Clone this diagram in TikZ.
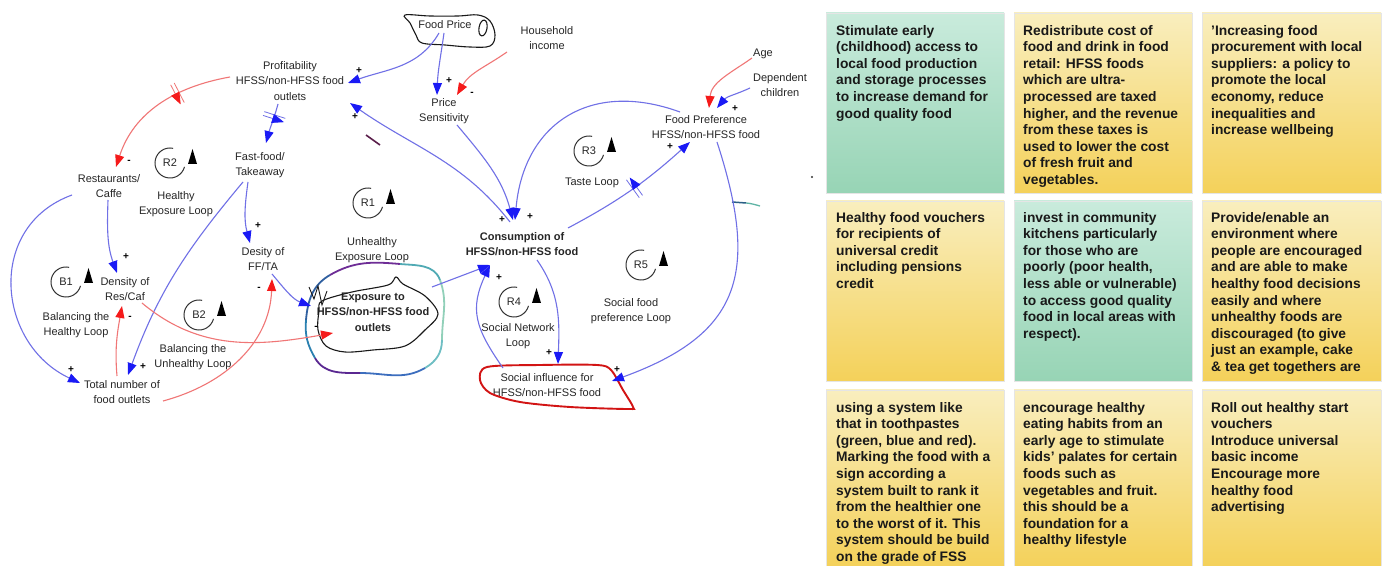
\documentclass[tikz,border=0pt]{standalone}
\usepackage{fontspec}
\setmainfont{Liberation Sans}
\usetikzlibrary{arrows.meta,decorations.markings}
\definecolor{bl}{HTML}{7070E6}
\definecolor{blh}{HTML}{1A1AF5}
\definecolor{rl}{HTML}{F07676}
\definecolor{rh}{HTML}{F51A1A}
\definecolor{gtop}{HTML}{C9EBDC}
\definecolor{gbot}{HTML}{97D4B5}
\definecolor{ytop}{HTML}{F9EEBE}
\definecolor{ybot}{HTML}{F4D15A}
\tikzset{
  var/.style={align=center, font=\fontsize{11}{15.5}\selectfont, inner sep=1pt, text=black!85},
  bvar/.style={var, font=\bfseries\fontsize{11}{15.5}\selectfont},
  sgn/.style={font=\bfseries\fontsize{10}{10}\selectfont, inner sep=0pt, text=black},
  pa/.style={draw=bl, line width=1.1pt, -{Triangle[length=12pt,width=9pt,color=blh]}},
  na/.style={draw=rl, line width=1.1pt, -{Triangle[length=12pt,width=9pt,color=rh]}},
  hashb/.style={postaction={decorate,decoration={markings,mark=at position #1 with {\draw[bl,line width=0.8pt] (-2pt,-11pt)--(-2pt,11pt) (2pt,-11pt)--(2pt,11pt);}}}},
  hashr/.style={postaction={decorate,decoration={markings,mark=at position #1 with {\draw[rl,line width=0.8pt] (-2pt,-11pt)--(-2pt,11pt) (2pt,-11pt)--(2pt,11pt);}}}},
  hand/.style={draw=black!90, line width=1.1pt},
  note/.style={draw=black!10, line width=0.6pt},
  notetxt/.style={anchor=north west, align=left, inner sep=0pt, font=\bfseries\fontsize{13.8}{16.6}\selectfont, text=black!90}
}
\newcommand{\lsym}[4]{%
  \node[var,inner sep=0pt] (#1) at (#2,#3) {#4};
  \draw[black!80,line width=1pt] ([shift={(78:15pt)}]#1.center) arc[start angle=78,end angle=345,radius=15pt];
  \fill[black] ([xshift=18pt,yshift=-1pt]#1.center) -- ++(9pt,0pt) -- ++(-4.5pt,15pt) -- cycle;
}
\begin{document}
\begin{tikzpicture}[x=1pt,y=1pt]
\useasboundingbox (0,0) rectangle (1384,565);
\fill[white] (0,0) rectangle (1384,565);

% ---------- sticky notes ----------
\shadedraw[note, top color=gtop, bottom color=gbot] (826,552) rectangle (1004,372);
\shadedraw[note, top color=ytop, bottom color=ybot] (1014,552) rectangle (1192,372);
\shadedraw[note, top color=ytop, bottom color=ybot] (1202,552) rectangle (1381,372);
\shadedraw[note, top color=ytop, bottom color=ybot] (826,364) rectangle (1004,184);
\shadedraw[note, top color=gtop, bottom color=gbot] (1014,364) rectangle (1192,184);
\shadedraw[note, top color=ytop, bottom color=ybot] (1202,364) rectangle (1381,184);
\shadedraw[note, top color=ytop, bottom color=ybot] (826,175) rectangle (1004,-2);
\shadedraw[note, top color=ytop, bottom color=ybot] (1014,175) rectangle (1192,-2);
\shadedraw[note, top color=ytop, bottom color=ybot] (1202,175) rectangle (1381,-2);

\node[notetxt] (n1) at (836,540) {Stimulate early\\(childhood) access to\\local food production\\and storage processes\\to increase demand for\\good quality food};
\node[notetxt] (n2) at (1023,540) {Redistribute cost of\\food and drink in food\\retail: HFSS foods\\which are ultra-\\processed are taxed\\higher, and the revenue\\from these taxes is\\used to lower the cost\\of fresh fruit and\\vegetables.};
\node[notetxt] (n3) at (1211,540) {'Increasing food\\procurement with local\\suppliers: a policy to\\promote the local\\economy, reduce\\inequalities and\\increase wellbeing};
\node[notetxt] (n4) at (836,353) {Healthy food vouchers\\for recipients of\\universal credit\\including pensions\\credit};
\node[notetxt] (n5) at (1023,353) {invest in community\\kitchens particularly\\for those who are\\poorly (poor health,\\less able or vulnerable)\\to access good quality\\food in local areas with\\respect).};
\node[notetxt] (n6) at (1211,353) {Provide/enable an\\environment where\\people are encouraged\\and are able to make\\healthy food decisions\\easily and where\\unhealthy foods are\\discouraged (to give\\just an example, cake\\\& tea get togethers are};
\node[notetxt] (n7) at (836,163) {using a system like\\that in toothpastes\\(green, blue and red).\\Marking the food with a\\sign according a\\system built to rank it\\from the healthier one\\to the worst of it. This\\system should be build\\on the grade of FSS};
\node[notetxt] (n8) at (1023,163) {encourage healthy\\eating habits from an\\early age to stimulate\\kids' palates for certain\\foods such as\\vegetables and fruit.\\this should be a\\foundation for a\\healthy lifestyle};
\node[notetxt] (n9) at (1211,163) {Roll out healthy start\\vouchers\\Introduce universal\\basic income\\Encourage more\\healthy food\\advertising};

% ---------- variables ----------
\node[var] (fp) at (445,540) {Food Price};
\node[var] (hi) at (547,527) {Household\\income};
\node[var] (prof) at (290,484) {Profitability\\HFSS/non-HFSS food\\outlets};
\node[var] (ps) at (444,454) {Price\\Sensitivity};
\node[var] (age) at (763,511) {Age};
\node[var] (dep) at (780,480) {Dependent\\children};
\node[var] (pref) at (706,438) {Food Preference\\HFSS/non-HFSS food};
\node[var] (rest) at (109,379) {Restaurants/\\Caffe};
\node[var] (ff) at (260,400) {Fast-food/\\Takeaway};
\node[bvar] (cons) at (522,321) {Consumption of\\HFSS/non-HFSS food};
\node[var] (dff) at (263,306) {Desity of\\FF/TA};
\node[var] (drc) at (125,276) {Density of\\Res/Caf};
\node[bvar] (exp) at (373,253) {Exposure to\\HFSS/non-HFSS food\\outlets};
\node[var] (tot) at (122,173) {Total number of\\food outlets};
\node[var] (soc) at (547,180) {Social influence for\\HFSS/non-HFSS food};

% ---------- loop labels ----------
\node[var] (l2) at (176,361) {Healthy\\Exposure Loop};
\node[var] (l1) at (372,315) {Unhealthy\\Exposure Loop};
\node[var] (l3) at (592,382) {Taste Loop};
\node[var] (lb1) at (76,240) {Balancing the\\Healthy Loop};
\node[var] (lb2) at (193,208) {Balancing the\\Unhealthy Loop};
\node[var] (l4) at (518,229) {Social Network\\Loop};
\node[var] (l5) at (631,254) {Social food\\preference Loop};

\lsym{r2}{170}{402}{R2}
\lsym{r1}{368}{362}{R1}
\lsym{r3}{589}{414}{R3}
\lsym{b1}{66}{283}{B1}
\lsym{b2}{199}{250}{B2}
\lsym{r4}{514}{263}{R4}
\lsym{r5}{641}{300}{R5}

% ---------- hand drawn marks ----------
\draw[hand] plot[smooth cycle, tension=0.6] coordinates {(405,550) (430,549) (458,549) (478,550) (490,544) (495,530) (490,519) (470,518) (445,520) (422,522) (416,530) (410,542)};
\draw[hand, rotate around={-10:(483,537)}] (483,537) ellipse[x radius=4pt, y radius=8pt];

\draw[line width=1.8pt, draw={rgb,255:red,48;green,96;blue,160}] (306,245) to[out=85,in=210] (330,290);
\draw[line width=1.8pt, draw={rgb,255:red,110;green,45;blue,150}] (330,290) to[out=30,in=175] (400,301);
\draw[line width=1.8pt, draw={rgb,255:red,80;green,170;blue,180}] (400,301) to[out=-5,in=110] (440,285);
\draw[line width=1.8pt, draw={rgb,255:red,145;green,208;blue,185}] (440,285) to[out=-70,in=90] (442,225);
\draw[line width=1.8pt, draw={rgb,255:red,110;green,190;blue,195}] (442,225) to[out=-90,in=30] (425,197);
\draw[line width=1.8pt, draw={rgb,255:red,60;green,110;blue,190}] (425,197) to[out=-150,in=0] (360,192);
\draw[line width=1.8pt, draw={rgb,255:red,90;green,40;blue,145}] (360,192) to[out=180,in=-60] (315,207);
\draw[line width=1.8pt, draw={rgb,255:red,42;green,128;blue,176}] (315,207) to[out=120,in=-95] (306,245);

\draw[hand] plot[smooth cycle, tension=0.55] coordinates {(322,264) (352,273) (388,280) (396,288) (403,281) (425,269) (438,251) (425,235) (405,219) (373,215) (345,213) (326,219) (318,235) (319,254)};
\draw[hand, line width=0.9pt] (309,278) -- (314,266) -- (318,279) -- (322,260) -- (327,274);

\draw[draw={rgb,255:red,210;green,20;blue,20}, line width=1.9pt] plot[smooth cycle, tension=0.5] coordinates {(487,198) (540,200) (597,200) (611,195) (623,175) (633,158) (628,156) (570,158) (520,163) (490,172) (480,185)};

\draw[line width=1.5pt, draw={rgb,255:red,42;green,95;blue,134}] (732,363) -- (746,362);
\draw[line width=1.3pt, draw={rgb,255:red,95;green,180;blue,165}] (746,362) to[out=-5,in=165] (760,359);
\draw[line width=1.6pt, draw={rgb,255:red,90;green,30;blue,75}] (366,430) -- (380,420);
\fill[black!80] (812,388) circle[radius=1.2pt];

% ---------- connectors ----------
\draw[pa] ([xshift=-6pt,yshift=-8pt]fp.center) to[out=240,in=20] ([xshift=58pt,yshift=-2pt]prof.center);
\draw[pa] ([xshift=-1pt,yshift=-8pt]fp.center) to[out=262,in=88] ([xshift=-7pt,yshift=16pt]ps.center);
\draw[na] ([xshift=-40pt,yshift=-14pt]hi.center) to[out=215,in=60] ([xshift=13pt,yshift=16pt]ps.center);
\draw[na, hashr=0.36] ([xshift=-60pt,yshift=4pt]prof.center) to[out=190,in=72] ([xshift=7pt,yshift=19pt]rest.center);
\draw[pa, hashb=0.33] ([xshift=-12pt,yshift=-23pt]prof.center) to[out=255,in=75] ([xshift=6pt,yshift=22pt]ff.center);
\draw[pa] ([xshift=-12pt,yshift=22pt]cons.center) to[out=128,in=-35] ([xshift=60pt,yshift=-22pt]prof.center);
\draw[pa] ([xshift=13pt,yshift=-14pt]ps.center) to[out=-50,in=105] ([xshift=-9pt,yshift=24pt]cons.center);
\draw[pa] ([xshift=-26pt,yshift=15pt]pref.center) to[out=160,in=85,looseness=1.25] ([xshift=-7pt,yshift=24pt]cons.center);
\draw[pa, hashb=0.52] ([xshift=46pt,yshift=16pt]cons.center) to[out=28,in=222] ([xshift=-16pt,yshift=-15pt]pref.center);
\draw[na] ([xshift=-11pt,yshift=-4pt]age.center) to[out=215,in=85] ([xshift=3pt,yshift=19pt]pref.center);
\draw[pa] ([xshift=-30pt,yshift=-3pt]dep.center) to[out=205,in=50] ([xshift=11pt,yshift=19pt]pref.center);
\draw[pa] ([xshift=11pt,yshift=-15pt]pref.center) to[out=-72,in=20,looseness=1.35] ([xshift=65pt,yshift=4pt]soc.center);
\draw[pa] ([xshift=15pt,yshift=-16pt]cons.center) to[out=-55,in=88] ([xshift=11pt,yshift=21pt]soc.center);
\draw[pa] ([xshift=-44pt,yshift=17pt]soc.center) to[out=125,in=-115,looseness=1.2] ([xshift=-32pt,yshift=-21pt]cons.center);
\draw[pa] ([xshift=59pt,yshift=25pt]exp.center) -- ([xshift=-32pt,yshift=-21pt]cons.center);
\draw[pa] ([xshift=-12pt,yshift=-17pt]ff.center) to[out=262,in=105] ([xshift=-13pt,yshift=16pt]dff.center);
\draw[pa] ([xshift=-17pt,yshift=-17pt]ff.center) to[out=230,in=70] ([xshift=6pt,yshift=17pt]tot.center);
\draw[pa] ([xshift=-1pt,yshift=-14pt]rest.center) to[out=-92,in=110] ([xshift=-8pt,yshift=16pt]drc.center);
\draw[pa] ([xshift=-37pt,yshift=-9pt]rest.center) to[out=200,in=155,looseness=1.25] ([xshift=-42pt,yshift=9pt]tot.center);
\draw[na] ([xshift=-5pt,yshift=16pt]tot.center) to[out=95,in=-100] ([xshift=-3pt,yshift=-17pt]drc.center);
\draw[na] ([xshift=41pt,yshift=-9pt]tot.center) to[out=15,in=-92] ([xshift=9pt,yshift=-20pt]dff.center);
\draw[na] ([xshift=17pt,yshift=-14pt]drc.center) to[out=-40,in=190] ([xshift=-40pt,yshift=-21pt]exp.center);
\draw[pa] ([xshift=9pt,yshift=-15pt]dff.center) to[out=-50,in=160] ([xshift=-62pt,yshift=6pt]exp.center);

% ---------- polarity signs ----------
\node[sgn] (s1) at (359,494) {+};
\node[sgn] (s2) at (355,448) {+};
\node[sgn] (s3) at (449,484) {+};
\node[sgn] (s4) at (472,471) {-};
\node[sgn] (s5) at (129,403) {-};
\node[sgn] (s6) at (735,456) {+};
\node[sgn] (s7) at (670,418) {+};
\node[sgn] (s8) at (502,345) {+};
\node[sgn] (s9) at (530,348) {+};
\node[sgn] (s10) at (499,287) {+};
\node[sgn] (s11) at (549,212) {+};
\node[sgn] (s12) at (617,195) {+};
\node[sgn] (s13) at (258,339) {+};
\node[sgn] (s14) at (126,308) {+};
\node[sgn] (s15) at (130,247) {-};
\node[sgn] (s16) at (259,276) {-};
\node[sgn] (s17) at (71,195) {+};
\node[sgn] (s18) at (143,198) {+};
\node[sgn] (s19) at (316,237) {-};
\end{tikzpicture}
\end{document}
